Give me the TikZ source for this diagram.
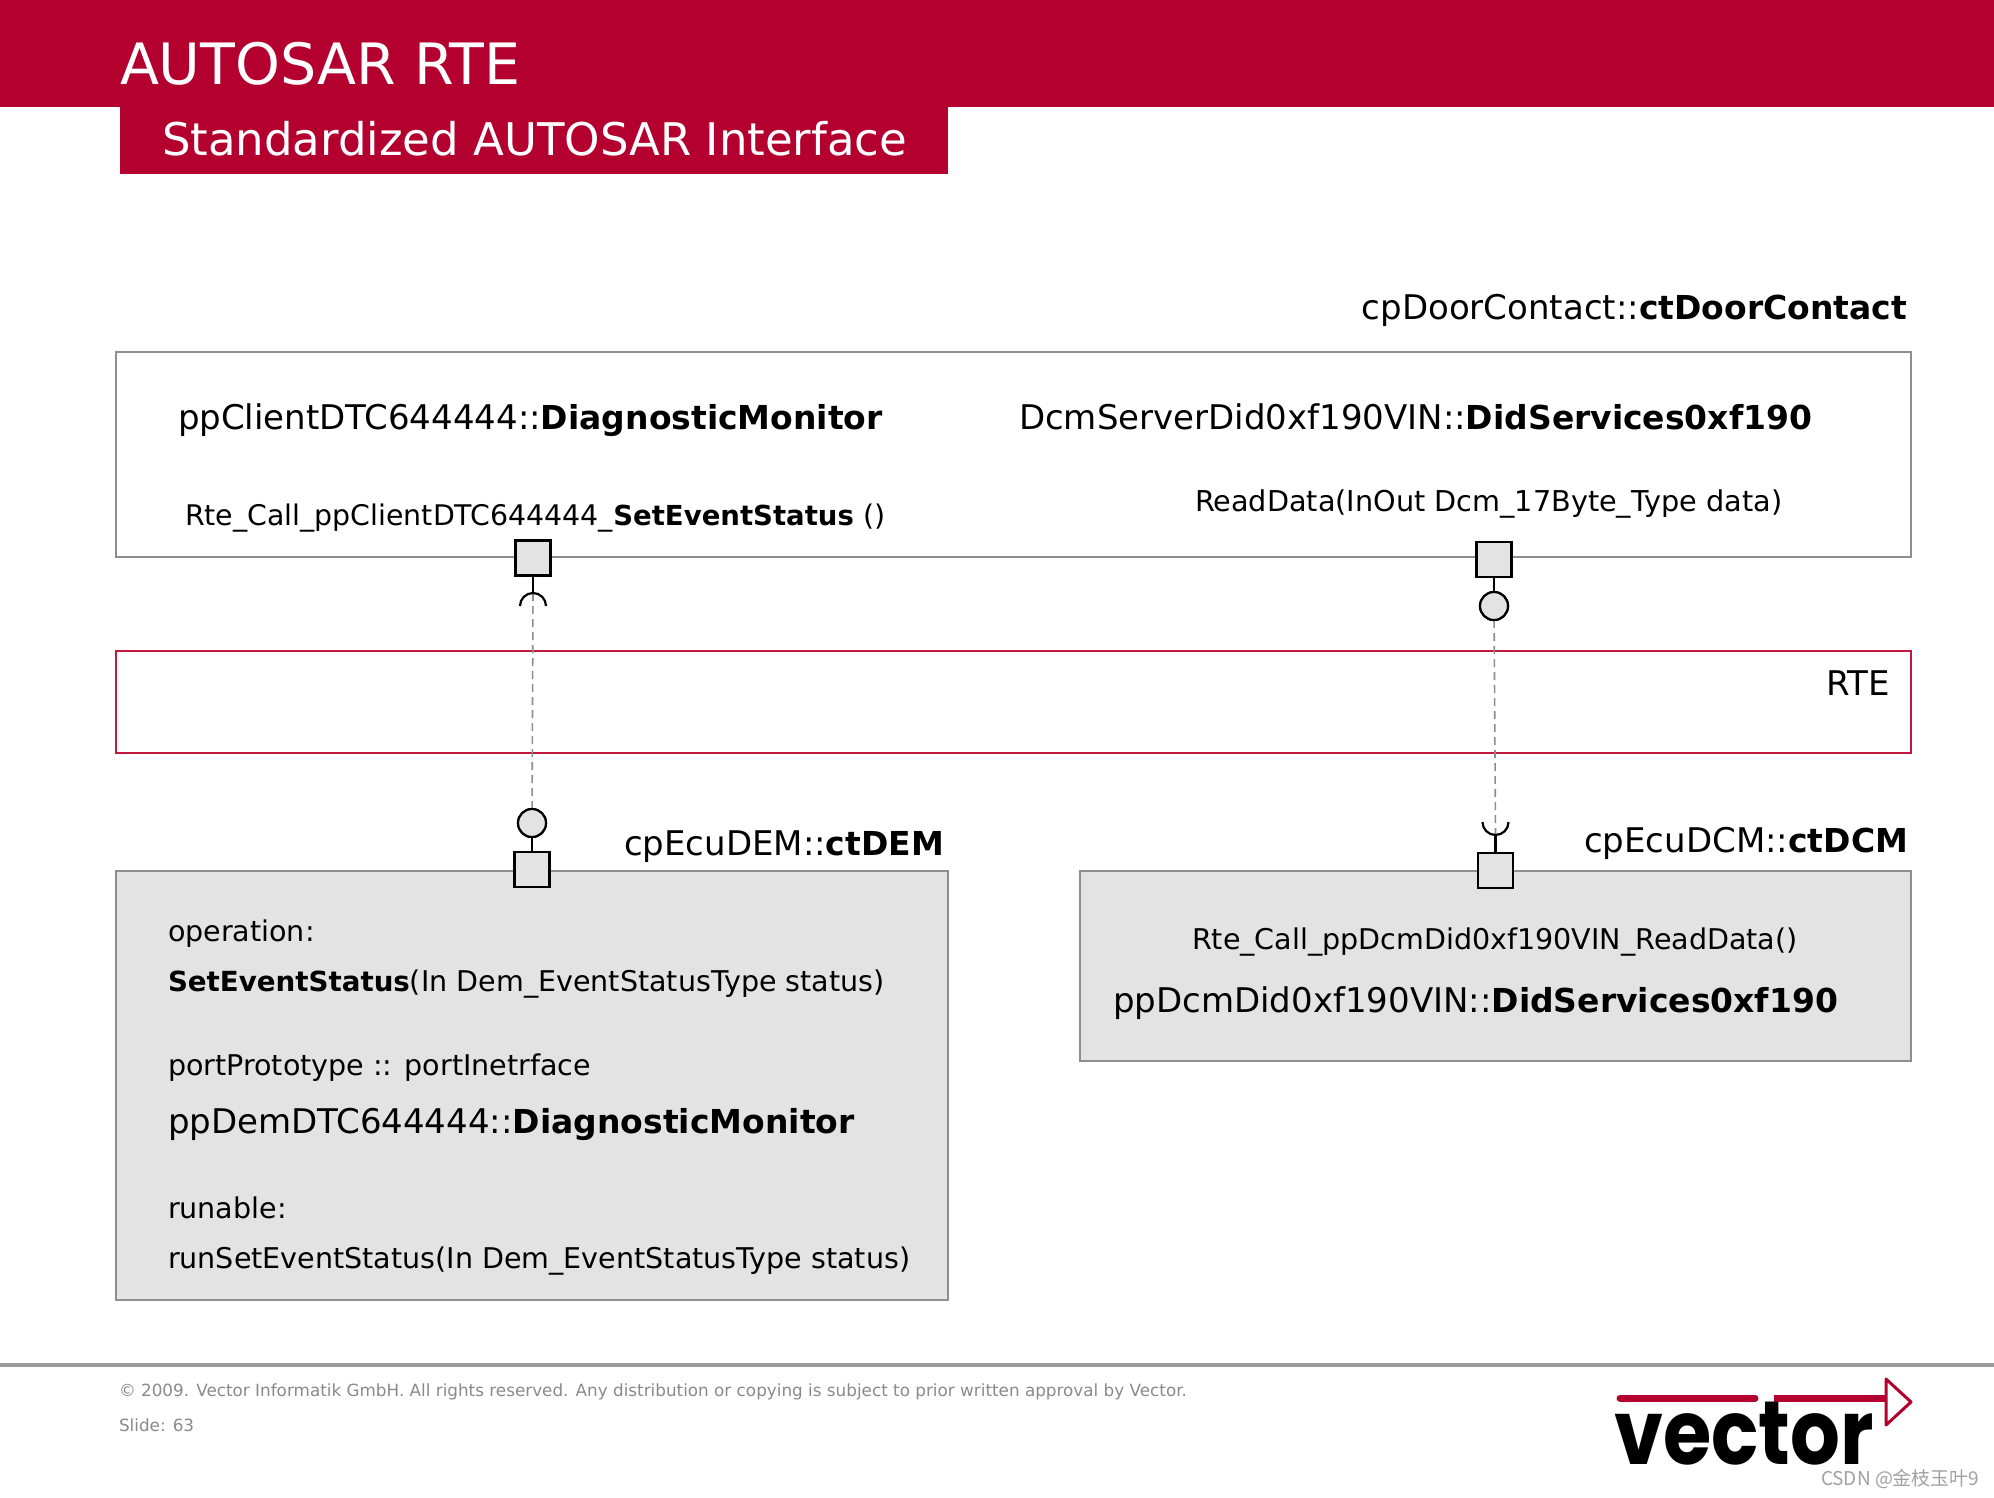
\documentclass[tikz,border=0pt]{standalone}
\usepackage{fontspec}
\setmainfont{DejaVu Sans}[BoldFeatures={Scale=0.97}]
\newfontfamily\logofont{Poppins}
\newfontfamily\cjkfont{Noto Sans CJK SC}
\usetikzlibrary{positioning}
\definecolor{vecred}{HTML}{B4002F}
\definecolor{rteline}{HTML}{C2173F}
\definecolor{boxfill}{HTML}{E3E3E3}
\definecolor{boxline}{HTML}{8E8E8E}
\definecolor{foottext}{HTML}{8A8A8A}
\newcommand{\fsize}[1]{\fontsize{#1}{#1}\selectfont}

\begin{document}
\begin{tikzpicture}[
    x=1pt, y=-1pt,
    node distance=15pt,
    every node/.style={inner sep=0pt, outer sep=0pt},
    band/.style={fill=vecred, draw=none},
    lab/.style={anchor=base west, font=\fsize{34}},
    labr/.style={anchor=base east, font=\fsize{34}},
    small/.style={anchor=base west, font=\fsize{28.55}},
    foot/.style={anchor=base west, font=\fsize{16.8}, text=foottext},
    swc/.style={draw=boxline, line width=2pt},
    swcfill/.style={swc, fill=boxfill},
    rte/.style={draw=rteline, line width=2pt},
    porthead/.style={draw, fill=boxfill, line width=2.2pt, minimum size=35pt},
    ball/.style={draw, circle, fill=boxfill, line width=2.2pt, minimum size=28pt},
    stem/.style={line width=2.2pt},
    link/.style={draw=boxline, line width=1.6pt, dash pattern=on 8pt off 5pt}
]
\useasboundingbox (0,0) rectangle (1994,1497);
\fill[white] (0,0) rectangle (1994,1497);

% header
\fill[band] (0,0) rectangle (1994,107);
\fill[band] (120,107) rectangle (948,174);
\node[anchor=base west, text=white, font=\fsize{57}] (title) at (120,84) {AUTOSAR RTE};
\node[anchor=base west, text=white, font=\fsize{45}] (subtitle) at (162,155) {Standardized AUTOSAR Interface};

% boxes
\draw[swc] (116,352) rectangle (1911,557);
\draw[rte] (116,651) rectangle (1911,753);
\draw[swcfill] (116,871) rectangle (948,1300);
\draw[swcfill] (1080,871) rectangle (1911,1061);

% upper component
\node[labr] (door) at (1907,319) {cpDoorContact::\textbf{ctDoorContact}};
\node[lab] (client) at (178,429) {ppClientDTC644444::\textbf{DiagnosticMonitor}};
\node[lab] (server) at (1019,429) {DcmServerDid0xf190VIN::\textbf{DidServices0xf190}};
\node[small, font=\fsize{28.4}] (call) at (185,525) {Rte\_Call\_ppClientDTC644444\_\textbf{SetEventStatus} ()};
\node[small, font=\fsize{28.7}] (read) at (1195,511) {ReadData(InOut Dcm\_17Byte\_Type data)};
\node[labr] (rtename) at (1890,695) {RTE};

% lower components
\node[labr] (dem) at (944,855) {cpEcuDEM::\textbf{ctDEM}};
\node[labr] (dcm) at (1908,852) {cpEcuDCM::\textbf{ctDCM}};
\node[small] (op) at (168,941) {operation:};
\node[small] (opsig) at (168,991) {\textbf{SetEventStatus}(In Dem\_EventStatusType status)};
\node[small] (proto) at (168,1075) {portPrototype :: portInetrface};
\node[lab] (ppdem) at (168,1133) {ppDemDTC644444::\textbf{DiagnosticMonitor}};
\node[small] (run) at (168,1218) {runable:};
\node[small] (runsig) at (168,1268) {runSetEventStatus(In Dem\_EventStatusType status)};
\node[small] (dcmcall) at (1192,949) {Rte\_Call\_ppDcmDid0xf190VIN\_ReadData()};
\node[lab] (ppdcm) at (1113,1012) {ppDcmDid0xf190VIN::\textbf{DidServices0xf190}};

% ports
\node[porthead] (pclient) at (533,558) {};
\node[porthead] (pserver) at (1494,559.5) {};
\node[porthead] (pdem) at (532,869.5) {};
\node[porthead] (pdcm) at (1495.5,870.5) {};
\node[ball, below=15pt of pserver] (bserver) {};
\node[ball, above=15pt of pdem] (bdem) {};
\coordinate (sclient) at (533,593);
\coordinate (sdcm) at (1495.5,835);

\draw[link] (sclient) -- (bdem);
\draw[link] (bserver) -- (sdcm);
\node[ball] at (bdem) {};
\node[ball] at (bserver) {};

\draw[stem] (pclient) -- (sclient);
\draw[stem] (pserver) -- (bserver);
\draw[stem] (pdem) -- (bdem);
\draw[stem] (pdcm) -- (sdcm);
\draw[stem] (sclient) ++(-13,13) arc[start angle=180, end angle=0, radius=13pt];
\draw[stem] (sdcm) ++(-13,-13) arc[start angle=180, end angle=360, radius=13pt];

% footer
\draw[line width=3.5pt, draw=boxline!90] (0,1365) -- (1994,1365);
\node[foot] (copy) at (119,1396) {© 2009. Vector Informatik GmbH. All rights reserved. Any distribution or copying is subject to prior written approval by Vector.};
\node[foot] (slide) at (119,1431) {Slide: 63};

% logo
\draw[vecred, line width=7pt, line cap=round] (1620,1398) -- (1755,1398);
\draw[vecred, line width=7pt] (1774,1398) -- (1886,1398);
\draw[vecred, line width=3pt, line join=round, fill=white] (1886,1379) -- (1911,1402) -- (1886,1425) -- cycle;
\node[anchor=base west, font=\logofont\bfseries\fsize{90}, xscale=.87] (logo) at (1614,1464) {vector};

\node[anchor=base west, text=foottext!80, font=\cjkfont\fsize{19}] (mark) at (1821,1485) {CSDN @金枝玉叶9};
\end{tikzpicture}
\end{document}
